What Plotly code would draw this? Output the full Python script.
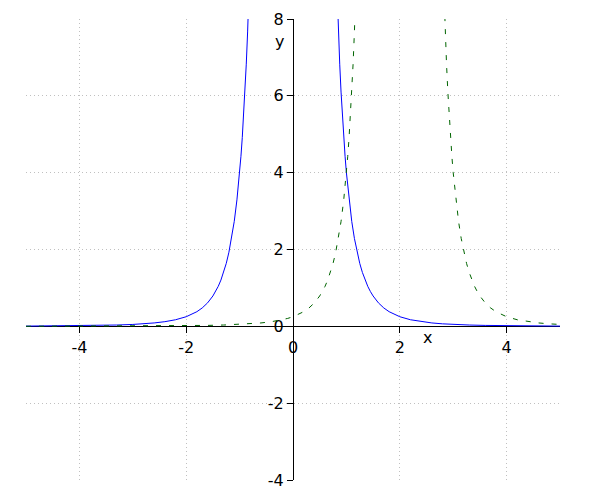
import plotly.graph_objects as go

# Blue solid curve (two branches separated by a gap)
blue_x = [-5.0, -4.5, -4.0, -3.6, -3.3, -3.0, -2.8, -2.6, -2.4, -2.2, -2.0, -1.9, -1.8, -1.7, -1.6,
          -1.5, -1.45, -1.4, -1.35, -1.3, -1.25, -1.2, -1.15, -1.1, -1.05, -1.0, -0.975, -0.95,
          -0.925, -0.9, -0.875, -0.85, -0.82, -0.8,
          None,
          0.8, 0.82, 0.85, 0.875, 0.9, 0.925, 0.95, 0.975, 1.0, 1.05, 1.1, 1.15, 1.2, 1.25, 1.3,
          1.35, 1.4, 1.45, 1.5, 1.6, 1.7, 1.8, 1.9, 2.0, 2.2, 2.4, 2.6, 2.8, 3.0, 3.3, 3.6, 4.0,
          4.5, 5.0]
blue_y = [0.006, 0.010, 0.016, 0.024, 0.034, 0.049, 0.065, 0.088, 0.121, 0.171, 0.250, 0.307,
          0.381, 0.479, 0.610, 0.790, 0.905, 1.041, 1.204, 1.401, 1.638, 1.929, 2.287, 2.732,
          3.291, 4.000, 4.426, 4.911, 5.464, 6.097, 6.824, 7.663, 8.847, 9.766,
          None,
          9.766, 8.847, 7.663, 6.824, 6.097, 5.464, 4.911, 4.426, 4.000, 3.291, 2.732, 2.287,
          1.929, 1.638, 1.401, 1.204, 1.041, 0.905, 0.790, 0.610, 0.479, 0.381, 0.307, 0.250,
          0.171, 0.121, 0.088, 0.065, 0.049, 0.034, 0.024, 0.016, 0.010, 0.006]

# Green dashed curve (two branches around x = 2)
green_x = [-5.0, -4.0, -3.0, -2.5, -2.0, -1.6, -1.3, -1.0, -0.8, -0.6, -0.4, -0.2, -0.1, 0.0,
           0.1, 0.2, 0.3, 0.4, 0.5, 0.55, 0.6, 0.65, 0.7, 0.75, 0.8, 0.85, 0.9, 0.95, 1.0,
           1.025, 1.05, 1.075, 1.1, 1.125, 1.15, 1.18, 1.2,
           None,
           2.8, 2.82, 2.85, 2.875, 2.9, 2.925, 2.95, 2.975, 3.0, 3.05, 3.1, 3.15, 3.2, 3.25,
           3.3, 3.35, 3.4, 3.45, 3.5, 3.6, 3.7, 3.8, 3.9, 4.0, 4.2, 4.4, 4.6, 4.8, 5.0]
green_y = [0.002, 0.003, 0.006, 0.010, 0.016, 0.024, 0.034, 0.049, 0.065, 0.088, 0.121, 0.171,
           0.2057, 0.250, 0.307, 0.381, 0.479, 0.610, 0.790, 0.905, 1.041, 1.204, 1.401, 1.638,
           1.929, 2.287, 2.732, 3.291, 4.000, 4.426, 4.911, 5.464, 6.097, 6.824, 7.663, 8.847,
           9.766,
           None,
           9.766, 8.847, 7.663, 6.824, 6.097, 5.464, 4.911, 4.426, 4.000, 3.291, 2.732, 2.287,
           1.929, 1.638, 1.401, 1.204, 1.041, 0.905, 0.790, 0.610, 0.479, 0.381, 0.307, 0.250,
           0.171, 0.121, 0.088, 0.065, 0.049]

x_ticks = [-4, -2, 0, 2, 4]
x_tick_labels = ["-4", "-2", "0", "2", "4"]
y_ticks = [-4, -2, 0, 2, 4, 6, 8]
y_tick_labels = ["-4", "-2", "0", "2", "4", "6", "8"]

FONT = "DejaVu Sans"
FSIZE = 16

fig = go.Figure()
fig.add_trace(go.Scatter(x=blue_x, y=blue_y, mode="lines",
                         line=dict(color="#0000ff", width=1), connectgaps=False,
                         showlegend=False, hoverinfo="skip"))
fig.add_trace(go.Scatter(x=green_x, y=green_y, mode="lines",
                         line=dict(color="#006400", width=1, dash="5px,8px"), connectgaps=False,
                         showlegend=False, hoverinfo="skip"))

axis_common = dict(
    showline=True, linecolor="black", linewidth=1,
    ticks="outside", ticklen=6, tickwidth=1, tickcolor="black",
    showgrid=True, gridcolor="#c0c0c0", gridwidth=1, griddash="1px,3px",
    zeroline=False, tickfont=dict(family=FONT, size=FSIZE, color="black"),
    layer="below traces", fixedrange=True, automargin=False,
)

fig.update_layout(
    width=600, height=500,
    margin=dict(l=17.5, r=47.5, t=11, b=28, autoexpand=False),
    paper_bgcolor="white", plot_bgcolor="white",
    xaxis=dict(range=[-5, 5], tickvals=x_ticks, ticktext=x_tick_labels,
               anchor="free", position=4/12, **axis_common),
    yaxis=dict(range=[-4, 8], tickvals=y_ticks, ticktext=y_tick_labels,
               anchor="free", position=0.5, **axis_common),
    annotations=[
        dict(x=2.52, y=-0.30, xref="x", yref="y", text="x", showarrow=False,
             font=dict(family=FONT, size=FSIZE, color="black")),
        dict(x=-0.26, y=7.41, xref="x", yref="y", text="y", showarrow=False,
             font=dict(family=FONT, size=FSIZE, color="black")),
    ],
)

fig.write_html("out.html")
